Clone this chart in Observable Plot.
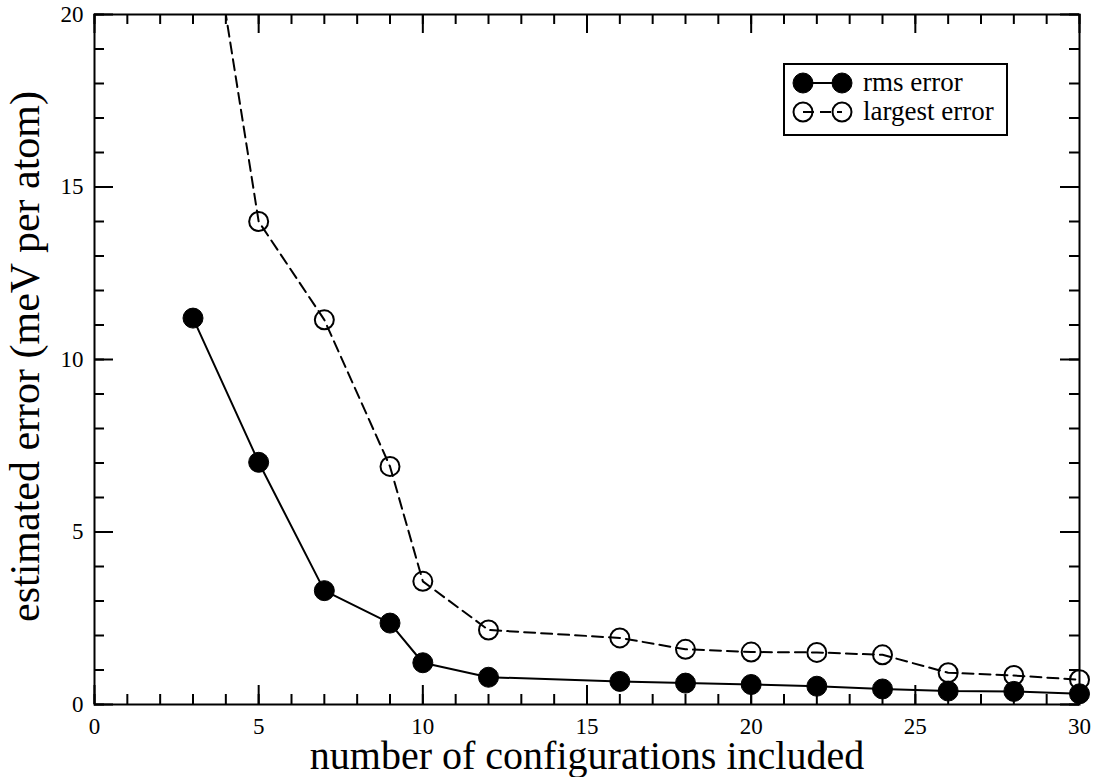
<!DOCTYPE html>
<html><head><meta charset="utf-8">
<script src="https://cdn.jsdelivr.net/npm/d3@7"></script>
<script src="https://cdn.jsdelivr.net/npm/@observablehq/plot@0.6"></script>
<style>
body{margin:0;background:#fff}
#wrap{position:relative;width:1097px;height:777px;font-family:"Liberation Serif",serif}
#wrap svg text{font-family:"Liberation Serif",serif}
#legend{position:absolute;left:783px;top:63px}
</style>
</head><body><div id="wrap"></div>
<script>
const configs = [3, 5, 7, 9, 10, 12, 16, 18, 20, 22, 24, 26, 28, 30];
const rmsError = [11.2, 7.02, 3.30, 2.36, 1.21, 0.79, 0.67, 0.62, 0.58, 0.53, 0.45, 0.39, 0.38, 0.31];
const largestError = [26.0, 14.0, 11.15, 6.90, 3.57, 2.16, 1.93, 1.60, 1.52, 1.51, 1.44, 0.92, 0.84, 0.72];
const xMajorTicks = [0, 5, 10, 15, 20, 25, 30];
const xMinorTicks = d3.range(0, 31, 1);
const yMajorTicks = [0, 5, 10, 15, 20];
const yMinorTicks = d3.range(0, 21, 1);
const xLabel = "number of configurations included";
const yLabel = "estimated error (meV per atom)";
const seriesNames = ["rms error", "largest error"];

const W = 1097, H = 777, mL = 94, mR = 18, mT = 14, mB = 73;
const pw = W - mL - mR, ph = H - mT - mB;
const majorLen = 19, minorLen = 10;

const rmsRows = configs.map((c, i) => ({x: c, y: rmsError[i]}));
const largestRows = configs.map((c, i) => ({x: c, y: largestError[i]}));

const chart = Plot.plot({
  width: W, height: H,
  marginLeft: mL, marginRight: mR, marginTop: mT, marginBottom: mB,
  style: "font-family: 'Liberation Serif', serif; background: white; color: black;",
  x: {domain: [0, 30]},
  y: {domain: [0, 20]},
  marks: [
    Plot.ruleX(xMinorTicks, {x: d => d, insetTop: ph - minorLen, stroke: "black", strokeWidth: 2}),
    Plot.ruleX(xMinorTicks, {x: d => d, insetBottom: ph - minorLen, stroke: "black", strokeWidth: 2}),
    Plot.ruleX(xMajorTicks, {x: d => d, insetTop: ph - majorLen, stroke: "black", strokeWidth: 2}),
    Plot.ruleX(xMajorTicks, {x: d => d, insetBottom: ph - majorLen, stroke: "black", strokeWidth: 2}),
    Plot.ruleY(yMinorTicks, {y: d => d, insetRight: pw - minorLen, stroke: "black", strokeWidth: 2}),
    Plot.ruleY(yMinorTicks, {y: d => d, insetLeft: pw - minorLen, stroke: "black", strokeWidth: 2}),
    Plot.ruleY(yMajorTicks, {y: d => d, insetRight: pw - majorLen, stroke: "black", strokeWidth: 2}),
    Plot.ruleY(yMajorTicks, {y: d => d, insetLeft: pw - majorLen, stroke: "black", strokeWidth: 2}),
    Plot.frame({stroke: "black", strokeWidth: 2}),
    Plot.axisX({ticks: xMajorTicks, tickSize: 0, tickPadding: 13, fontSize: 23, label: null, tickFormat: d => String(d)}),
    Plot.axisY({ticks: yMajorTicks, tickSize: 0, tickPadding: 11, fontSize: 23, label: null, tickFormat: d => String(d)}),
    Plot.text([xLabel], {frameAnchor: "bottom", dy: 52, lineAnchor: "middle", textAnchor: "middle", fontSize: 40, fill: "black"}),
    Plot.text([yLabel], {frameAnchor: "left", dx: -69, dy: -3, rotate: -90, lineAnchor: "middle", textAnchor: "middle", fontSize: 42, fill: "black"}),
    Plot.line(largestRows, {x: "x", y: "y", stroke: "black", strokeWidth: 2, strokeDasharray: "11,6", clip: true}),
    Plot.line(rmsRows, {x: "x", y: "y", stroke: "black", strokeWidth: 2}),
    Plot.dot(rmsRows, {x: "x", y: "y", r: 10, fill: "black", stroke: "black", strokeWidth: 1}),
    Plot.dot(largestRows, {x: "x", y: "y", r: 9.5, fill: "none", stroke: "black", strokeWidth: 2})
  ]
});
document.getElementById("wrap").appendChild(chart);

const lg = d3.select("#wrap").append("svg").attr("id", "legend")
  .attr("width", 226).attr("height", 74);
lg.append("rect").attr("x", 1).attr("y", 1).attr("width", 223).attr("height", 71)
  .attr("fill", "white").attr("stroke", "black").attr("stroke-width", 2);
const rows = [
  {name: seriesNames[0], y: 20, filled: true, dash: null},
  {name: seriesNames[1], y: 49, filled: false, dash: "11,6"}
];
rows.forEach(r => {
  lg.append("line").attr("x1", 20).attr("x2", 59).attr("y1", r.y).attr("y2", r.y)
    .attr("stroke", "black").attr("stroke-width", 2).attr("stroke-dasharray", r.dash);
  [20, 59].forEach(cx => {
    lg.append("circle").attr("cx", cx).attr("cy", r.y).attr("r", r.filled ? 10 : 9.5)
      .attr("fill", r.filled ? "black" : "none").attr("stroke", "black").attr("stroke-width", r.filled ? 1 : 2);
  });
  lg.append("text").attr("x", 80).attr("y", r.y + 8).attr("font-size", 27).text(r.name);
});
</script>
</body></html>
